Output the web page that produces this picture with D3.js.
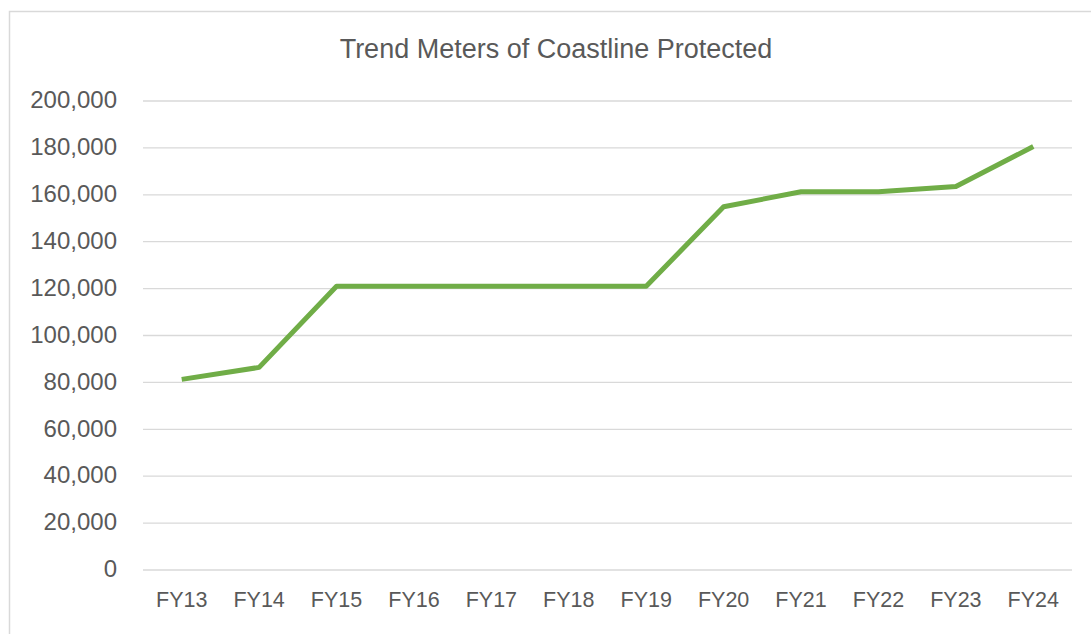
<!DOCTYPE html>
<html>
<head>
<meta charset="utf-8">
<script src="https://cdn.jsdelivr.net/npm/d3@7"></script>
<style>
  body { margin: 0; background: #fff; }
  svg { display: block; }
  text { font-family: "Liberation Sans", Arial, sans-serif; fill: #595959; }
</style>
</head>
<body>
<svg id="chart" width="1091" height="634"></svg>
<script>
const years = ["FY13", "FY14", "FY15", "FY16", "FY17", "FY18", "FY19", "FY20", "FY21", "FY22", "FY23", "FY24"];
const meters = [81300, 86400, 121000, 121000, 121000, 121000, 121000, 154900, 161300, 161300, 163500, 180600];
const yTicks = [0, 20000, 40000, 60000, 80000, 100000, 120000, 140000, 160000, 180000, 200000];
const title = "Trend Meters of Coastline Protected";

const svg = d3.select("#chart");
const margin = { left: 143, right: 19, top: 101, bottom: 64 };
const W = 1091, H = 634;

// chart frame (runs off the right and bottom edges like the screenshot)
svg.append("rect")
  .attr("x", 9.5).attr("y", 11.5)
  .attr("width", 1200).attr("height", 800)
  .attr("fill", "none").attr("stroke", "#d9d9d9").attr("stroke-width", 1.5);

const x = d3.scaleBand().domain(years).range([margin.left, W - margin.right]);
const y = d3.scaleLinear().domain([0, 200000]).range([H - margin.bottom, margin.top]);

// gridlines
svg.append("g")
  .selectAll("line")
  .data(yTicks)
  .join("line")
  .attr("x1", margin.left).attr("x2", W - margin.right)
  .attr("y1", d => y(d)).attr("y2", d => y(d))
  .attr("stroke", "#d9d9d9").attr("stroke-width", 1.3);

// y axis labels
const yAxis = svg.append("g")
  .attr("transform", `translate(${margin.left},0)`)
  .call(d3.axisLeft(y).tickValues(yTicks).tickFormat(d3.format(",")).tickSize(0).tickPadding(26));
yAxis.select(".domain").remove();
yAxis.selectAll("text")
  .attr("font-size", 24)
  .attr("dy", "0.28em")
  .style("font-family", "'Liberation Sans', Arial, sans-serif")
  .attr("fill", "#595959");

// x axis labels
const xAxis = svg.append("g")
  .attr("transform", `translate(0,${y(0)})`)
  .call(d3.axisBottom(x).tickSize(0).tickPadding(22));
xAxis.select(".domain").remove();
xAxis.selectAll("text")
  .attr("font-size", 21.5)
  .style("font-family", "'Liberation Sans', Arial, sans-serif")
  .attr("fill", "#595959");

// line
const line = d3.line()
  .x((d, i) => x(years[i]) + x.bandwidth() / 2)
  .y(d => y(d));

svg.append("path")
  .datum(meters)
  .attr("d", line)
  .attr("fill", "none")
  .attr("stroke", "#70ad47")
  .attr("stroke-width", 5)
  .attr("stroke-linejoin", "round");

// title
svg.append("text")
  .attr("x", 556).attr("y", 58)
  .attr("text-anchor", "middle")
  .attr("font-size", 27)
  .text(title);
</script>
</body>
</html>
